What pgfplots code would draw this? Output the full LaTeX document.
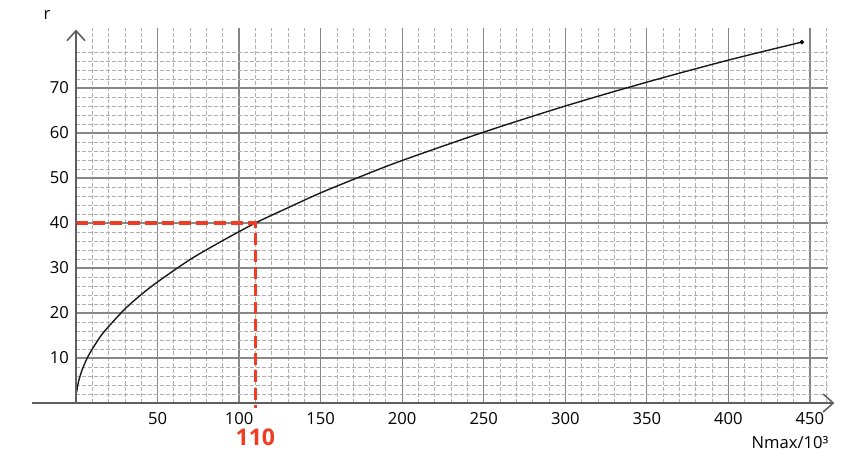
\documentclass[border=0pt]{standalone}
\usepackage{fontspec}
\setmainfont{Open Sans}
\usepackage{pgfplots}
\pgfplotsset{compat=1.18}
\usetikzlibrary{arrows.meta}
\definecolor{redline}{RGB}{240,60,35}
\definecolor{majgrid}{RGB}{135,135,135}
\definecolor{mingrid}{RGB}{175,175,175}
\definecolor{axcol}{RGB}{95,95,95}
\begin{document}
\begin{tikzpicture}
\begin{axis}[
  x=0.8155pt, y=2.25pt,
  xmin=0, xmax=461, ymin=0, ymax=83.3,
  axis lines=left, axis line style={draw=none},
  clip=false,
  xtick={50,100,...,450}, ytick={10,20,...,70},
  minor xtick={10,20,...,460},
  minor ytick={2,4,...,78},
  grid=both,
  major grid style={majgrid, line width=0.65pt},
  minor grid style={mingrid, line width=0.4pt, dash pattern=on 1.8pt off 1.2pt},
  major tick length=0pt, minor tick length=0pt,
  tick style={draw=none},
  tick label style={font=\fontsize{8.3}{9}\selectfont},
  xticklabel style={anchor=center, yshift=-8pt},
  /pgf/number format/assume math mode=true,
]
\addplot[black!90, line width=0.7pt, smooth] coordinates {
  (0.4,2.4) (1,3.8) (2,5.4) (4,7.6) (7,10.1) (10,12) (15,14.8) (20,17)
  (30,20.9) (40,24.1) (50,26.9) (70,31.9) (90,36.1) (110,40) (130,43.4)
  (150,46.7) (175,50.4) (200,53.9) (250,60.2) (300,66) (350,71.3)
  (400,76.2) (445,80.2)
};
\addplot[black, only marks, mark=*, mark size=0.9pt] coordinates {(445,80.2)};
\draw[redline, line width=1.6pt, dash pattern=on 6pt off 2.6pt]
  (axis cs:0,40) -- (axis cs:110,40) -- (axis cs:110,-1.2);
\draw[axcol, line width=0.8pt, -{Straight Barb[length=5pt,width=9pt]}]
  (axis cs:-27,0) -- (axis cs:465,0);
\draw[axcol, line width=0.8pt, -{Straight Barb[length=5pt,width=9pt]}]
  (axis cs:0,0) -- (axis cs:0,83);
\node[text=redline, font=\fontsize{11.5}{12}\selectfont\bfseries] at (axis cs:110,-7.6) {110};
\node[font=\fontsize{8.3}{9}\selectfont] at (axis cs:437.8,-8.7) {Nmax/10³};
\node[font=\fontsize{8.3}{9}\selectfont] at (axis cs:-17.8,86.2) {r};
\coordinate (BL) at (axis cs:-46.6,-12.44);
\coordinate (TR) at (axis cs:475.8,89.56);
\end{axis}
\pgfresetboundingbox
\useasboundingbox (BL) rectangle (TR);
\end{tikzpicture}
\end{document}
